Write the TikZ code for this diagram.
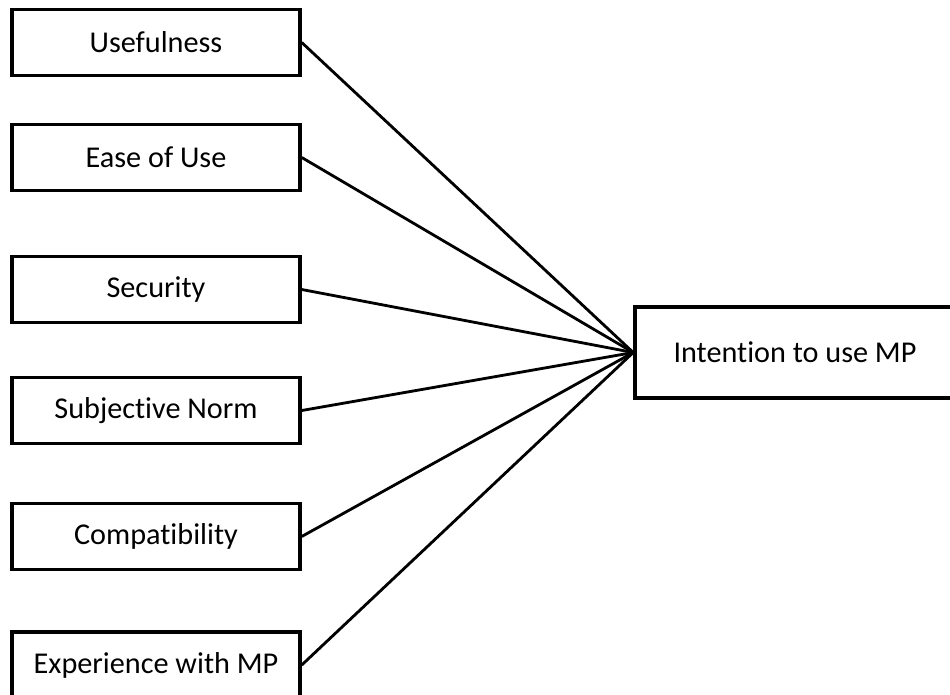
\documentclass[tikz,border=0pt]{standalone}
\usepackage{fontspec}
\setmainfont[Ligatures=NoCommon]{Carlito}
\usetikzlibrary{positioning}

\begin{document}
\begin{tikzpicture}[font=\fontsize{17.2}{20}\selectfont,
    factor/.style={rectangle, draw, line width=2pt, minimum width=5.76cm, minimum height=1.32cm, inner sep=2pt},
    target/.style={rectangle, draw, line width=2pt, minimum width=6.4cm, minimum height=1.82cm, inner sep=2pt},
    link/.style={line width=1.6pt}]
  \useasboundingbox (0,0) rectangle (19,-13.88);
  \clip (0,0) rectangle (19,-13.88);
  % Factors on the left
  \node[factor] (useful)  at (3.12, -0.85)  {Usefulness};
  \node[factor] (ease)    at (3.12, -3.15)  {Ease of Use};
  \node[factor] (secure)  at (3.12, -5.79)  {Security};
  \node[factor] (norm)    at (3.12, -8.21)  {Subjective Norm};
  \node[factor] (compat)  at (3.12, -10.73) {Compatibility};
  \node[factor] (exper)   at (3.12, -13.3)  {Experience with MP};
  % Outcome on the right
  \node[target] (intent)  at (15.9, -7.05)  {Intention to use MP};
  \draw[link] (useful.east)--(intent.west);
  \draw[link] (ease.east)--(intent.west);
  \draw[link] (secure.east)--(intent.west);
  \draw[link] (norm.east)--(intent.west);
  \draw[link] (compat.east)--(intent.west);
  \draw[link] (exper.east)--(intent.west);
\end{tikzpicture}
\end{document}
